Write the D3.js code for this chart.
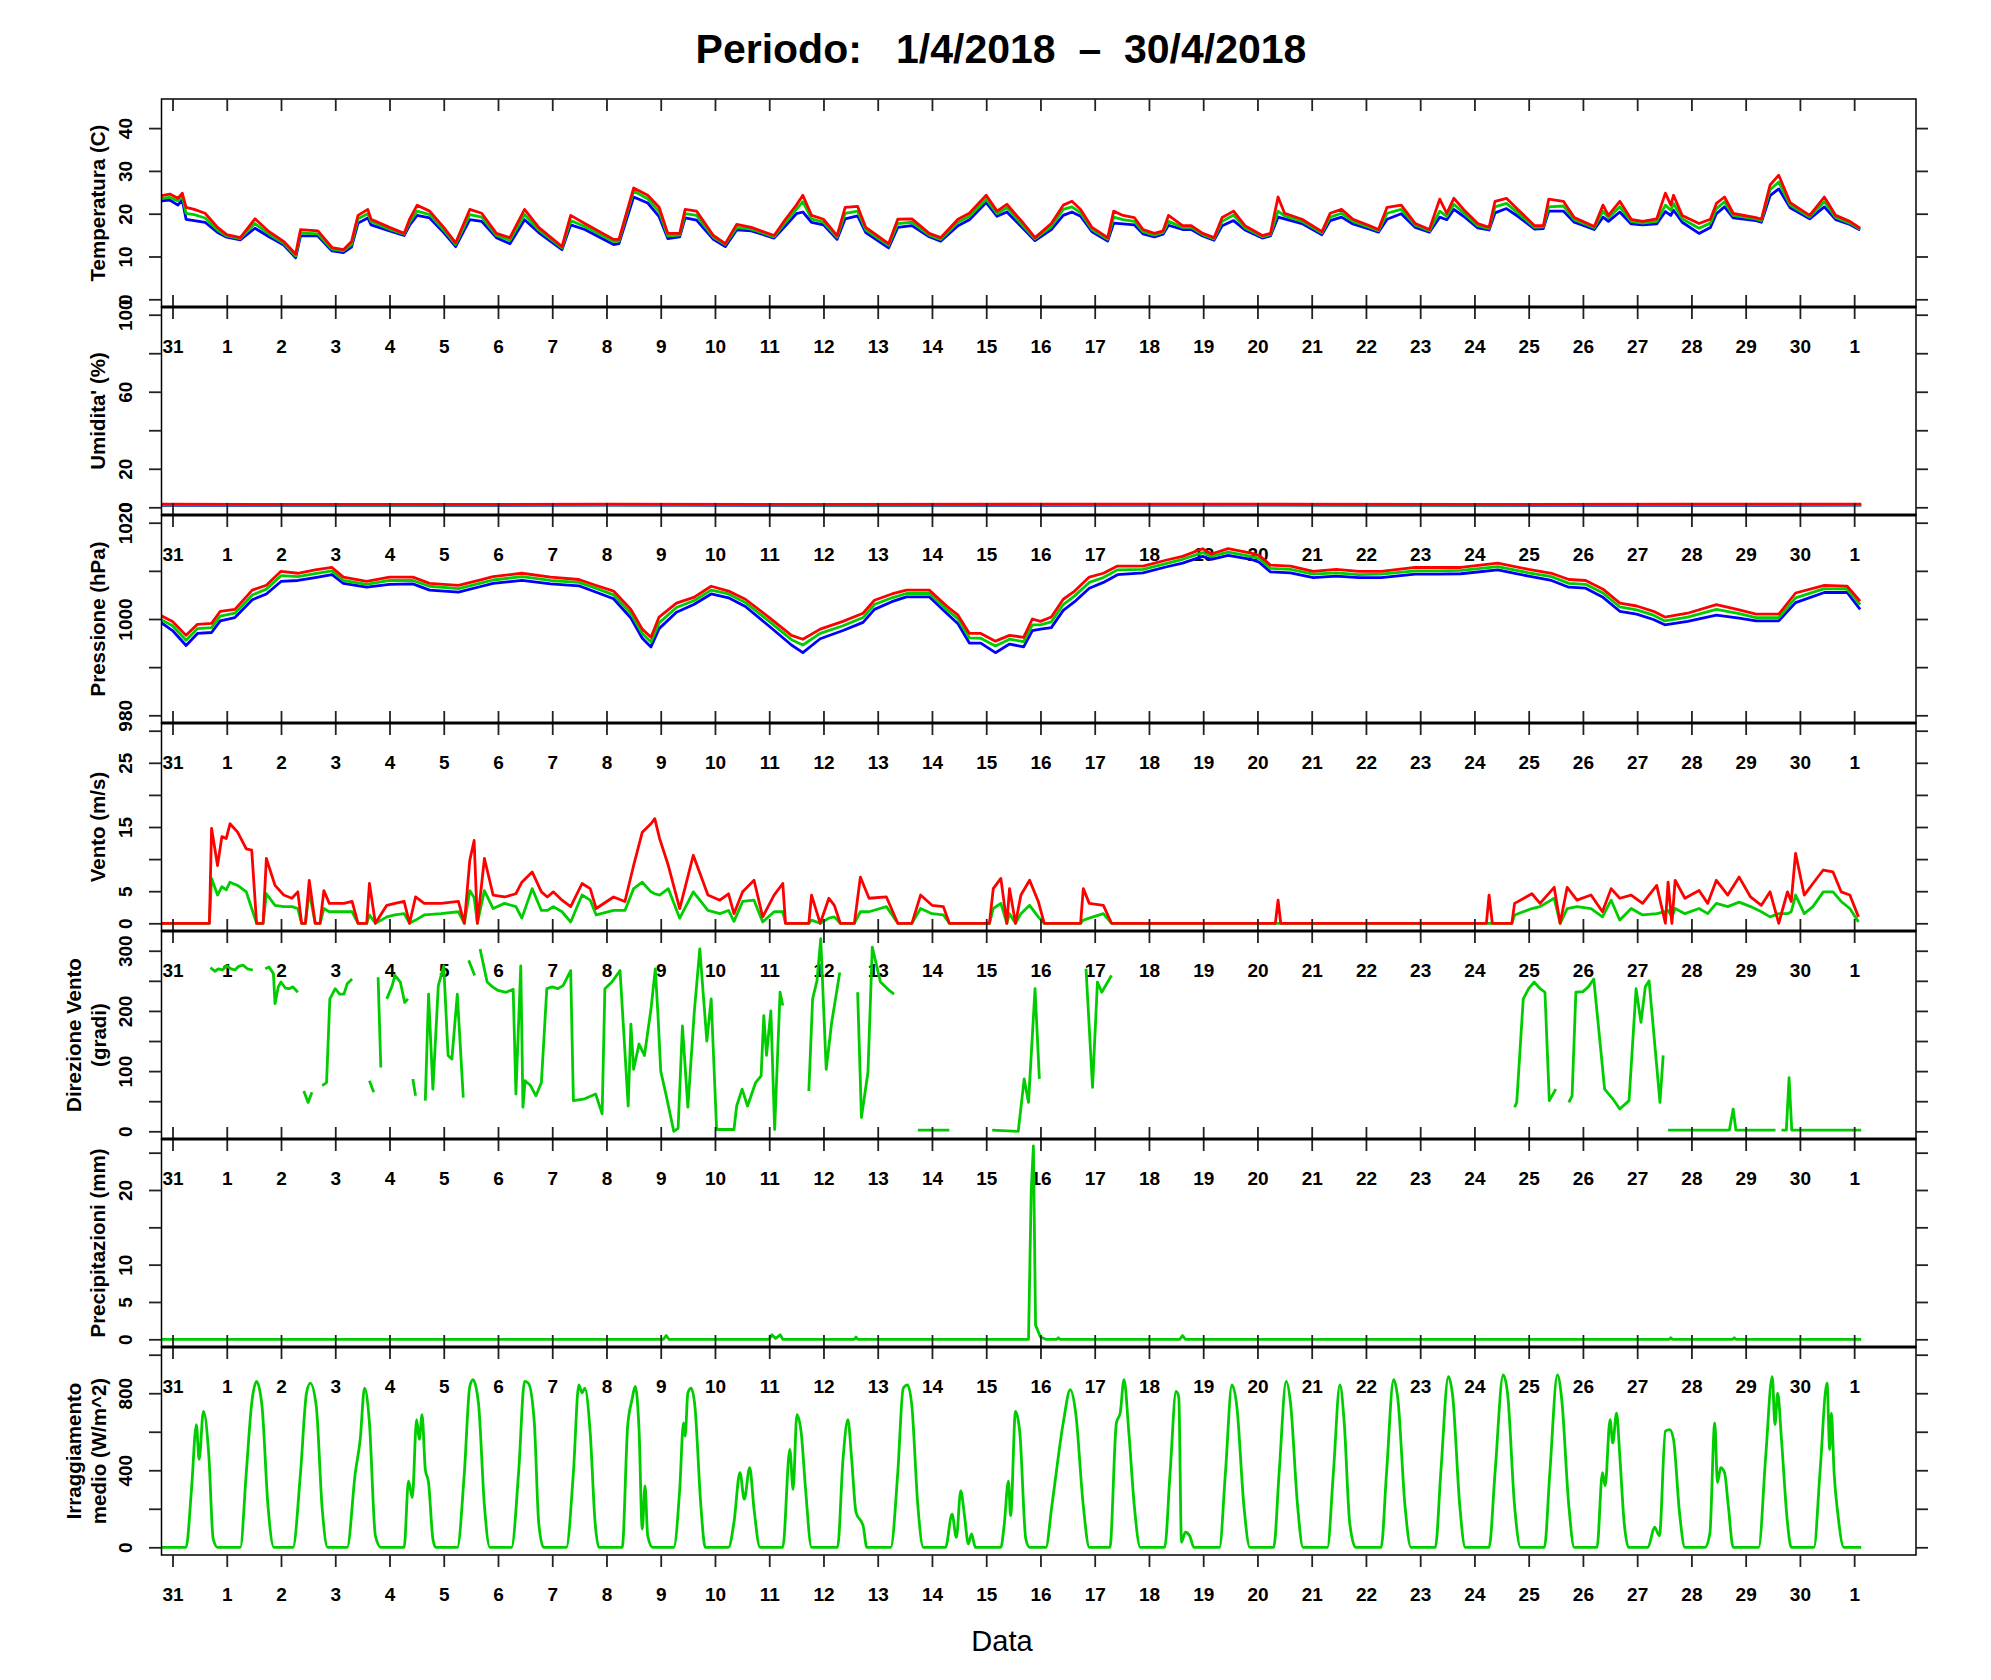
<!DOCTYPE html>
<html>
<head>
<meta charset="utf-8">
<script src="https://cdn.jsdelivr.net/npm/d3@7"></script>
<style>
  body { margin: 0; background: #fff; }
  text { font-family: "Liberation Sans", Arial, Helvetica, sans-serif; }
</style>
</head>
<body>
<div id="main"></div>
<script>
// time axis is in days counted from 31/3 00:00
const dayTicks = [0,1,2,3,4,5,6,7,8,9,10,11,12,13,14,15,16,17,18,19,20,21,22,23,24,25,26,27,28,29,30,31];
const dayLabels = ['31','1','2','3','4','5','6','7','8','9','10','11','12','13','14','15','16','17','18','19','20','21','22','23','24','25','26','27','28','29','30','1'];

// temperature (C): max (red), mean (green), min (blue)
const tempT = [-0.2,-0.05,0.1,0.18,0.25,0.4,0.6,0.83,1.0,1.25,1.52,1.78,2.05,2.27,2.36,2.68,2.94,3.15,3.3,3.42,3.6,3.66,4.0,4.27,4.37,4.51,4.74,5.0,5.22,5.48,5.7,5.97,6.22,6.49,6.75,7.18,7.34,7.6,8.13,8.23,8.5,8.76,8.97,9.13,9.35,9.45,9.66,9.97,10.19,10.4,10.67,11.09,11.3,11.5,11.62,11.78,12.0,12.25,12.4,12.63,12.78,13.2,13.37,13.63,13.95,14.16,14.48,14.69,15.0,15.2,15.38,15.69,15.9,16.2,16.42,16.58,16.74,16.95,17.24,17.35,17.52,17.73,17.89,18.1,18.26,18.36,18.62,18.78,18.99,19.2,19.35,19.56,19.77,20.09,20.24,20.38,20.5,20.82,21.19,21.34,21.55,21.76,22.07,22.23,22.39,22.65,22.91,23.17,23.36,23.49,23.62,23.8,24.06,24.27,24.38,24.59,24.8,25.11,25.27,25.37,25.64,25.84,26.21,26.37,26.47,26.68,26.89,27.1,27.36,27.52,27.62,27.67,27.83,28.14,28.35,28.46,28.61,28.77,29.19,29.29,29.45,29.61,29.82,30.18,30.45,30.66,30.92,31.11];
const tempMax = [24.2,24.6,23.6,24.8,21.5,21.0,20.1,16.8,15.1,14.4,18.8,15.8,13.5,10.6,16.3,16.0,12.1,11.6,13.5,19.6,21.0,18.7,16.8,15.4,18.7,22.0,20.6,16.8,13.2,21.0,20.1,15.4,14.4,21.0,16.8,12.3,19.6,17.7,14.0,14.0,26.0,24.3,21.5,15.4,15.4,21.0,20.6,14.9,13.0,17.5,16.8,14.9,18.7,22.0,24.3,19.6,18.7,14.9,21.5,21.7,16.8,13.0,18.7,18.8,15.4,14.4,18.7,20.1,24.3,20.6,22.2,17.7,14.4,17.7,22.0,22.9,21.0,16.8,14.4,20.6,19.6,19.1,16.3,15.4,16.0,19.6,17.2,17.2,15.4,14.4,19.1,20.6,17.2,14.9,15.4,23.9,20.1,18.7,15.8,20.1,21.0,18.7,17.2,16.3,21.5,22.0,17.7,16.3,23.4,20.1,23.6,21.0,17.7,16.8,22.9,23.6,21.0,17.2,17.2,23.4,22.9,19.1,17.0,22.0,19.6,22.9,18.7,18.2,18.8,24.8,22.0,24.3,19.6,17.7,18.7,22.4,23.9,20.1,19.1,18.7,26.7,29.0,22.6,19.6,23.9,19.6,18.2,16.6];
const tempMean = [23.6,23.8,23.0,24.0,20.1,19.8,19.0,16.2,14.8,14.2,17.7,15.2,13.1,10.1,15.5,15.3,11.7,11.3,12.8,18.8,20.0,18.2,16.4,15.2,18.0,20.6,19.8,16.2,12.8,19.8,19.2,14.9,13.8,19.8,16.2,12.0,18.4,17.0,13.5,13.6,25.3,23.5,20.5,14.8,15.0,20.0,19.6,14.5,12.8,16.8,16.4,14.6,18.0,21.0,22.8,18.8,18.0,14.5,20.1,20.6,16.2,12.6,17.7,18.0,15.0,14.0,18.0,19.4,23.4,20.0,21.4,17.0,14.1,17.0,21.0,21.6,20.2,16.3,14.0,19.2,18.6,18.2,15.8,15.0,15.6,18.2,16.8,16.8,15.1,14.1,18.2,19.7,16.7,14.6,15.1,20.6,19.5,18.2,15.5,19.2,20.1,18.2,16.8,16.0,20.1,21.0,17.3,16.0,20.6,19.4,22.2,20.2,17.2,16.5,21.6,22.4,20.2,16.8,16.9,21.6,21.8,18.6,16.7,20.6,19.0,21.6,18.2,17.8,18.2,22.0,20.8,22.4,18.8,16.6,17.8,21.2,22.8,19.6,18.8,18.4,25.6,27.4,22.0,19.2,22.8,19.1,17.8,16.4];
const tempMin = [23.0,23.2,22.0,23.2,18.7,18.4,18.0,15.6,14.5,13.9,16.6,14.6,12.7,9.7,14.8,14.8,11.3,10.9,12.2,17.8,19.0,17.4,16.0,14.9,17.3,19.6,19.0,15.6,12.3,18.6,18.2,14.4,13.0,18.6,15.6,11.6,17.4,16.3,12.8,13.0,23.9,22.5,19.3,14.2,14.6,19.0,18.5,14.0,12.3,16.2,16.0,14.3,17.2,20.0,20.4,18.0,17.4,14.0,18.8,19.5,15.6,12.0,16.8,17.2,14.6,13.6,17.2,18.6,22.6,19.4,20.4,16.4,13.7,16.3,19.6,20.4,19.4,15.8,13.6,17.8,17.6,17.4,15.3,14.6,15.2,17.3,16.3,16.3,14.8,13.8,17.2,18.4,16.2,14.3,14.8,19.2,18.8,17.7,15.1,18.4,19.2,17.6,16.4,15.7,18.7,20.0,16.8,15.7,19.2,18.6,21.0,19.4,16.7,16.2,20.2,21.2,19.4,16.4,16.5,20.6,20.6,18.0,16.3,19.2,18.2,20.4,17.6,17.4,17.6,20.5,19.6,20.8,18.0,15.4,16.8,20.0,21.6,19.0,18.4,18.0,24.2,25.8,21.4,18.8,21.6,18.6,17.5,16.2];

// relative humidity (%)
const humT = [-0.2,4,8,12,16,20,24,28,31.13];
const humMax = [1.6,1.5,1.6,1.5,1.6,1.6,1.5,1.6,1.6];
const humMean = [1.3,1.2,1.3,1.2,1.3,1.3,1.2,1.3,1.3];
const humMin = [1.0,1.0,1.1,1.0,1.0,1.1,1.0,1.0,1.1];

// pressure (hPa)
const presT = [-0.23,0.0,0.25,0.46,0.72,0.88,1.15,1.47,1.73,2.0,2.31,2.63,2.94,3.15,3.58,4.0,4.43,4.74,5.27,5.7,5.91,6.44,6.97,7.49,7.8,8.13,8.45,8.66,8.82,8.97,9.29,9.61,9.93,10.25,10.56,10.99,11.41,11.62,11.94,12.36,12.73,12.94,13.26,13.53,13.95,14.27,14.48,14.69,14.9,15.17,15.43,15.69,15.85,16.0,16.2,16.42,16.63,16.9,17.16,17.42,17.89,18.31,18.62,18.99,19.15,19.46,19.88,20.03,20.24,20.61,21.03,21.45,21.87,22.28,22.91,23.33,23.75,24.43,25.0,25.42,25.74,26.05,26.37,26.68,26.99,27.3,27.51,27.93,28.46,28.88,29.19,29.61,29.92,30.45,30.87,31.11];
const presMax = [1000.8,999.5,996.6,998.9,999.1,1001.6,1002.0,1006.0,1007.0,1009.9,1009.5,1010.2,1010.7,1008.7,1007.8,1008.7,1008.7,1007.4,1007.0,1008.2,1008.8,1009.5,1008.7,1008.2,1007.0,1005.8,1002.0,997.9,996.2,1000.4,1003.3,1004.5,1006.8,1005.8,1004.1,1000.4,996.6,995.8,997.9,999.5,1001.2,1003.9,1005.2,1006.0,1006.0,1002.7,1000.8,997.0,997.0,995.4,996.6,996.2,1000.0,999.5,1000.4,1004.1,1005.8,1008.7,1009.5,1011.0,1011.0,1012.2,1013.0,1014.6,1013.5,1014.6,1013.7,1013.2,1011.2,1011.0,1009.9,1010.3,1009.9,1009.9,1010.7,1010.7,1010.7,1011.6,1010.3,1009.5,1008.2,1008.0,1006.2,1003.3,1002.7,1001.6,1000.4,1001.2,1003.0,1001.9,1001.0,1001.0,1005.4,1007.0,1006.8,1003.7];
const presMean = [1000.0,998.6,995.6,998.0,998.2,1000.6,1001.2,1005.0,1006.2,1009.0,1008.8,1009.4,1010.0,1008.0,1007.2,1008.0,1008.0,1006.8,1006.3,1007.5,1008.1,1008.8,1008.0,1007.6,1006.4,1005.0,1001.2,997.0,995.2,999.2,1002.4,1003.8,1006.0,1005.2,1003.4,999.6,995.7,994.6,997.0,998.6,1000.3,1003.0,1004.4,1005.3,1005.3,1002.0,1000.0,996.1,996.0,994.4,995.8,995.3,998.8,998.8,999.4,1003.0,1004.8,1007.6,1008.6,1010.2,1010.3,1011.5,1012.4,1013.8,1013.0,1013.9,1013.0,1012.6,1010.5,1010.3,1009.3,1009.6,1009.2,1009.3,1010.0,1010.0,1010.1,1010.9,1009.6,1008.8,1007.4,1007.2,1005.4,1002.5,1001.9,1000.8,999.6,1000.4,1002.0,1001.1,1000.3,1000.3,1004.4,1006.3,1006.2,1003.0];
const presMin = [999.4,997.6,994.5,997.0,997.2,999.6,1000.3,1004.0,1005.2,1007.8,1008.0,1008.6,1009.2,1007.4,1006.6,1007.2,1007.3,1006.0,1005.6,1006.8,1007.4,1008.0,1007.3,1006.9,1005.6,1004.2,1000.2,996.0,994.2,998.0,1001.4,1003.0,1005.2,1004.4,1002.6,998.6,994.6,993.0,995.9,997.6,999.3,1002.0,1003.6,1004.6,1004.6,1001.2,999.0,995.0,995.0,993.0,994.8,994.2,997.6,997.9,998.2,1001.8,1003.6,1006.4,1007.6,1009.2,1009.6,1010.8,1011.6,1013.0,1012.4,1013.2,1012.4,1011.8,1009.8,1009.6,1008.6,1008.9,1008.6,1008.6,1009.3,1009.3,1009.4,1010.2,1008.9,1008.0,1006.6,1006.4,1004.5,1001.6,1001.0,999.9,998.8,999.5,1000.8,1000.2,999.6,999.6,1003.4,1005.5,1005.5,1002.0];

// wind speed (m/s): gust (red), mean (green)
const windT = [-0.2,0.68,0.72,0.83,0.91,0.99,1.06,1.2,1.36,1.46,1.55,1.67,1.73,1.89,2.05,2.2,2.31,2.38,2.45,2.52,2.63,2.72,2.79,2.89,3.16,3.31,3.42,3.58,3.63,3.74,3.85,3.95,4.1,4.27,4.37,4.48,4.64,4.95,5.27,5.38,5.48,5.56,5.62,5.75,5.91,6.12,6.33,6.44,6.63,6.8,6.91,7.02,7.18,7.34,7.55,7.7,7.81,8.13,8.34,8.5,8.66,8.82,8.89,8.98,9.14,9.35,9.6,9.87,10.09,10.25,10.35,10.51,10.72,10.88,11.09,11.25,11.3,11.73,11.78,11.94,12.1,12.2,12.31,12.57,12.68,12.84,13.16,13.37,13.63,13.79,14.0,14.21,14.32,15.06,15.13,15.27,15.38,15.43,15.54,15.64,15.8,15.96,16.07,16.74,16.79,16.9,17.16,17.31,20.33,20.38,20.43,24.22,24.27,24.33,24.69,24.74,25.06,25.21,25.47,25.58,25.71,25.89,26.15,26.36,26.52,26.68,26.89,27.1,27.36,27.52,27.57,27.64,27.7,27.88,28.14,28.3,28.46,28.67,28.88,29.09,29.29,29.45,29.61,29.77,29.84,29.92,30.08,30.24,30.43,30.61,30.76,30.92,31.08];
const windGust = [0,0,14.8,9.0,13.5,13.2,15.5,14.2,11.6,11.4,0,0,10.1,5.9,4.4,3.9,4.9,0,0,6.7,0,0,5.1,3.1,3.1,3.4,0,0,6.2,0,1.5,2.8,3.1,3.4,0,4.1,3.1,3.1,3.4,0,9.8,12.9,0,10.1,4.4,4.1,4.6,6.4,8.0,4.9,4.1,4.9,3.6,2.6,6.2,5.4,2.3,4.1,3.4,9.0,14.2,15.5,16.3,13.2,9.0,2.3,10.6,4.4,3.6,4.6,1.5,4.9,6.7,1.0,4.4,6.2,0,0,4.4,0,3.9,2.8,0,0,7.2,3.9,4.1,0,0,4.4,2.8,2.6,0,0,5.4,7.0,0,5.4,0,4.4,6.7,3.4,0,0,5.4,3.1,2.8,0,0,3.6,0,0,4.4,0,0,3.1,4.6,3.1,5.6,0,5.6,3.6,4.4,1.8,5.4,3.9,4.4,3.1,5.9,0,6.4,0,6.7,3.9,5.1,3.1,6.7,4.4,7.2,4.1,2.8,4.9,0,4.9,3.4,10.9,4.4,6.2,8.3,8.0,4.9,4.4,1.0];
const windMean = [0,0,7.0,4.4,5.7,5.2,6.4,5.9,4.9,2.3,0,0,4.6,2.8,2.6,2.6,2.3,0,0,4.9,0,0,2.3,1.8,1.8,1.8,0,0,1.3,0,0.5,1.0,1.3,1.5,0,0.5,1.3,1.5,1.8,0,5.1,4.0,0,5.1,2.3,3.1,2.6,0.8,5.4,2.0,2.0,2.6,1.8,0.2,4.4,3.6,1.3,2.0,2.0,5.4,6.4,4.9,4.6,4.4,5.4,0.8,4.9,2.0,1.5,2.0,0.3,3.4,3.6,0.2,1.8,1.8,0,0,0.5,0,0.8,1.0,0,0,1.8,1.8,2.6,0,0,2.3,1.5,1.3,0,0,2.3,3.1,0,1.5,0,1.5,2.8,1.0,0,0,0.5,0.8,1.5,0,0,0,0,0,0,0,0,1.3,2.3,2.6,3.9,0,2.3,2.6,2.3,1.0,3.6,0.5,2.3,1.3,1.5,1.8,2.0,1.0,2.3,1.5,2.3,1.5,3.1,2.6,3.3,2.6,1.8,1.0,1.5,1.5,1.8,4.4,1.5,2.6,4.9,4.9,3.4,2.3,0.2];

// wind direction (degrees), null marks a gap in the record
const dirT = [0.7,0.78,0.85,0.92,1.0,1.08,1.15,1.22,1.3,1.38,1.48,1.6,1.71,1.78,1.86,1.89,1.95,2.0,2.08,2.15,2.22,2.31,2.36,2.42,2.5,2.57,2.66,2.76,2.84,2.9,3.0,3.08,3.16,3.22,3.31,3.5,3.63,3.71,3.75,3.79,3.84,3.9,3.95,4.05,4.1,4.2,4.28,4.34,4.38,4.43,4.48,4.56,4.66,4.72,4.8,4.9,5.0,5.08,5.15,5.25,5.36,5.41,5.46,5.57,5.62,5.67,5.8,5.9,6.0,6.15,6.28,6.33,6.42,6.46,6.5,6.6,6.7,6.8,6.9,7.0,7.1,7.2,7.34,7.39,7.6,7.8,7.92,7.97,8.1,8.25,8.4,8.45,8.5,8.6,8.7,8.82,8.9,8.95,9.0,9.1,9.24,9.32,9.4,9.5,9.62,9.72,9.85,9.93,10.03,10.35,10.4,10.5,10.6,10.75,10.85,10.9,10.95,11.03,11.1,11.2,11.25,11.5,11.73,11.8,11.88,11.95,12.05,12.15,12.3,12.45,12.63,12.7,12.82,12.9,13.05,13.2,13.3,13.5,13.74,14.32,14.7,15.11,15.59,15.7,15.78,15.9,15.98,16.4,16.84,16.96,17.05,17.13,17.31,21.0,24.74,24.78,24.9,25.0,25.1,25.2,25.3,25.38,25.5,25.62,25.74,25.8,25.87,26.0,26.1,26.2,26.4,26.55,26.68,26.85,26.98,27.07,27.15,27.22,27.42,27.48,27.53,27.57,28.7,28.77,28.82,29.55,29.6,29.66,29.75,29.8,29.85,31.13];
const dirV = [272,266,270,268,275,270,268,274,276,270,268,null,270,273,262,212,240,248,238,237,240,231,null,67,48,65,null,76,81,220,237,228,228,245,253,null,84,65,null,256,106,null,220,242,259,248,214,220,null,87,59,null,51,228,70,242,275,126,120,228,56,null,284,259,null,303,248,240,234,231,236,62,275,40,84,76,59,81,237,240,237,242,267,51,54,62,29,237,248,267,42,178,103,145,126,203,270,192,100,60,0,5,175,40,200,303,150,220,3,3,42,70,42,81,92,192,126,200,3,231,209,null,67,220,250,320,103,180,264,null,231,23,98,306,248,235,228,null,2,2,null,2,0,87,48,237,87,null,270,73,248,231,259,null,40,48,220,237,248,238,231,51,70,null,48,59,231,232,240,253,70,54,37,51,237,181,240,250,48,126,null,2,2,37,2,2,null,2,2,89,2,2];

// precipitation (mm)
const precT = [-0.2,9.05,9.1,9.15,11.0,11.05,11.12,11.2,11.25,12.57,12.6,12.63,15.78,15.83,15.87,15.91,16.0,16.1,16.3,16.33,16.36,18.57,18.62,18.67,27.59,27.62,27.65,28.76,28.79,28.82,31.13];
const precV = [0,0,0.5,0,0,0.6,0.1,0.6,0,0,0.3,0,0,20,25.9,1.9,0.3,0,0,0.2,0,0,0.5,0,0,0.2,0,0,0.2,0,0];

// mean irradiance (W/m^2)
const irrT = [-0.2,0.25,0.35,0.44,0.49,0.57,0.67,0.75,0.83,1.25,1.36,1.46,1.55,1.65,1.76,1.87,2.22,2.36,2.47,2.54,2.65,2.76,2.86,3.22,3.37,3.46,3.54,3.63,3.74,3.84,4.27,4.35,4.42,4.5,4.55,4.6,4.66,4.72,4.8,4.85,5.25,5.38,5.48,5.54,5.64,5.75,5.85,6.25,6.38,6.49,6.56,6.67,6.75,6.84,7.26,7.39,7.49,7.55,7.6,7.7,7.79,7.86,8.29,8.39,8.47,8.53,8.6,8.66,8.71,8.76,8.85,9.24,9.35,9.42,9.45,9.5,9.56,9.63,9.74,9.82,10.25,10.35,10.46,10.54,10.64,10.72,10.83,11.25,11.38,11.44,11.51,11.59,11.67,11.78,12.26,12.36,12.45,12.52,12.6,12.73,12.8,13.24,13.37,13.47,13.55,13.63,13.74,13.84,14.25,14.37,14.45,14.53,14.6,14.67,14.73,14.8,15.27,15.33,15.41,15.45,15.54,15.62,15.73,15.8,16.1,16.21,16.42,16.55,16.65,16.79,16.9,17.28,17.4,17.47,17.54,17.63,17.73,17.84,18.29,18.39,18.5,18.55,18.6,18.67,18.75,18.83,19.3,19.41,19.53,19.62,19.75,19.86,20.3,20.4,20.53,20.61,20.74,20.84,21.29,21.4,21.52,21.6,21.7,21.81,22.28,22.38,22.51,22.59,22.72,22.83,23.28,23.38,23.52,23.6,23.73,23.83,24.27,24.38,24.53,24.61,24.74,24.85,25.29,25.39,25.53,25.61,25.74,25.84,26.26,26.36,26.41,26.5,26.55,26.62,26.68,26.76,26.84,27.2,27.32,27.41,27.52,27.6,27.67,27.78,27.88,28.25,28.34,28.43,28.48,28.54,28.61,28.68,28.77,29.24,29.37,29.49,29.54,29.59,29.66,29.77,29.84,30.26,30.37,30.5,30.55,30.58,30.63,30.7,30.81,31.13];
const irrV = [0,0,301,637,456,706,473,43,0,0,388,749,861,732,215,0,0,388,801,852,732,198,0,0,388,560,826,646,60,0,0,344,258,663,560,689,405,336,43,0,0,388,835,870,749,215,0,0,388,861,852,646,129,0,0,388,843,801,826,594,129,0,0,628,766,835,611,95,319,60,0,0,301,646,577,801,826,732,215,0,0,129,388,250,413,198,0,0,508,301,689,594,301,0,0,456,663,456,181,112,0,0,388,826,843,732,215,0,0,172,52,293,164,18,69,0,0,112,344,164,706,594,43,0,0,215,646,818,697,215,0,0,646,697,870,594,215,0,0,388,809,780,26,78,60,0,0,388,843,732,215,0,0,388,861,749,215,0,0,388,843,646,129,0,0,388,870,766,215,0,0,388,886,783,215,0,0,388,895,801,215,0,0,388,895,766,215,0,0,388,319,663,542,697,473,129,0,0,104,60,603,611,560,181,0,0,72,646,336,413,388,215,0,0,474,886,637,801,560,129,0,0,388,852,508,697,388,172,0,0];

// y axes: ticks and which of them carry a label
const tempTicks = [0,10,20,30,40],               tempLabels = [0,10,20,30,40];
const humTicks = [0,20,40,60,80,100],            humLabels = [0,20,60,100];
const presTicks = [980,990,1000,1010,1020],      presLabels = [980,1000,1020];
const windTicks = [0,5,10,15,20,25,30],          windLabels = [0,5,15,25];
const dirTicks = [0,50,100,150,200,250,300],     dirLabels = [0,100,200,300];
const precTicks = [0,5,10,15,20,25],             precLabels = [0,5,10,20];
const irrTicks = [0,200,400,600,800,1000],       irrLabels = [0,400,800];

const RED = '#ff0000', GREEN = '#00cd00', BLUE = '#0000ff';
const zip = (t, v) => t.map((d, i) => [d, v[i]]);

const panels = [
  { title: ['Temperatura (C)'], ylim: [0, 45], ticks: tempTicks, labels: tempLabels,
    series: [[zip(tempT, tempMin), BLUE], [zip(tempT, tempMean), GREEN], [zip(tempT, tempMax), RED]] },
  { title: ["Umidita' (%)"], ylim: [0, 100], ticks: humTicks, labels: humLabels,
    series: [[zip(humT, humMin), BLUE], [zip(humT, humMean), GREEN], [zip(humT, humMax), RED]] },
  { title: ['Pressione (hPa)'], ylim: [980, 1020], ticks: presTicks, labels: presLabels,
    series: [[zip(presT, presMin), BLUE], [zip(presT, presMean), GREEN], [zip(presT, presMax), RED]] },
  { title: ['Vento (m/s)'], ylim: [0, 30], ticks: windTicks, labels: windLabels,
    series: [[zip(windT, windMean), GREEN], [zip(windT, windGust), RED]] },
  { title: ['Direzione Vento', '(gradi)'], ylim: [0, 320], ticks: dirTicks, labels: dirLabels,
    series: [[zip(dirT, dirV), GREEN]] },
  { title: ['Precipitazioni (mm)'], ylim: [0, 25.8], ticks: precTicks, labels: precLabels,
    series: [[zip(precT, precV), GREEN]] },
  { title: ['Irraggiamento', 'medio (W/m^2)'], ylim: [0, 1000], ticks: irrTicks, labels: irrLabels,
    series: [[zip(irrT, irrV), GREEN]], smooth: true }
];

const width = 1991, height = 1680;
const plotL = 161.5, plotR = 1916, plotTop = 99, panelH = 208;

let svg = d3.select('#main')
  .append('svg')
    .attr('width', width)
    .attr('height', height)
    .style('display', 'block');

// R style axis range: 4% padding on both sides
const expand = lim => { const r = lim[1] - lim[0]; return [lim[0] - 0.04 * r, lim[1] + 0.04 * r]; };

const x = d3.scaleLinear().domain([-0.203, 32.14]).range([plotL, plotR]);

panels.forEach((p, i) => {
  const top = plotTop + i * panelH, bottom = top + panelH;
  const y = d3.scaleLinear().domain(expand(p.ylim)).range([bottom, top]);
  const g = svg.append('g');

  g.append('clipPath').attr('id', 'clip' + i)
    .append('rect').attr('x', plotL).attr('y', top).attr('width', plotR - plotL).attr('height', panelH);

  const line = d3.line()
    .defined(d => d[1] !== null)
    .x(d => x(d[0]))
    .y(d => y(d[1]))
    .curve(p.smooth ? d3.curveMonotoneX : d3.curveLinear);

  p.series.forEach(([data, color]) => {
    g.append('path')
      .datum(data)
      .attr('clip-path', `url(#clip${i})`)
      .attr('fill', 'none')
      .attr('stroke', color)
      .attr('stroke-width', 2.8)
      .attr('stroke-linejoin', 'round')
      .attr('d', line);
  });

  g.append('rect')
    .attr('x', plotL).attr('y', top)
    .attr('width', plotR - plotL).attr('height', panelH)
    .attr('fill', 'none').attr('stroke', '#000').attr('stroke-width', 1.5);

  // left axis, labels turned like R las=0
  const left = g.append('g')
    .attr('transform', `translate(${plotL},0)`)
    .call(d3.axisLeft(y).tickValues(p.ticks).tickSize(12.5)
      .tickFormat(v => p.labels.includes(v) ? v : ''));
  left.select('.domain').remove();
  left.attr('color', '#222').attr('font-size', 19).attr('font-weight', 'bold')
    .attr('font-family', null);
  left.selectAll('line').attr('stroke-width', 1.8);
  left.selectAll('text')
    .attr('x', 0).attr('y', -29.5).attr('dy', 0)
    .attr('fill', '#000')
    .attr('text-anchor', 'middle')
    .attr('transform', 'rotate(-90)');

  const right = g.append('g')
    .attr('transform', `translate(${plotR},0)`)
    .call(d3.axisRight(y).tickValues(p.ticks).tickSize(12).tickFormat(''));
  right.select('.domain').remove();
  right.attr('color', '#222').selectAll('line').attr('stroke-width', 1.8);

  // day ticks on top (inward for the first panel) and bottom with labels
  const topAxis = g.append('g')
    .attr('transform', `translate(0,${top})`)
    .call(d3.axisTop(x).tickValues(dayTicks).tickSize(i === 0 ? -12 : 12).tickFormat(''));
  topAxis.select('.domain').remove();
  topAxis.attr('color', '#222').selectAll('line').attr('stroke-width', 1.8);

  const bot = g.append('g')
    .attr('transform', `translate(0,${bottom})`)
    .call(d3.axisBottom(x).tickValues(dayTicks).tickSize(12).tickFormat((d, k) => dayLabels[k]));
  bot.select('.domain').remove();
  bot.attr('color', '#222').attr('font-size', 19).attr('font-weight', 'bold')
    .attr('font-family', null);
  bot.selectAll('line').attr('stroke-width', 1.8);
  bot.selectAll('text').attr('y', 45.5).attr('dy', 0).attr('fill', '#000');

  // y title, one or two lines
  const cy = (top + bottom) / 2;
  const baseX = p.title.length === 1 ? [104.5] : [81, 106];
  p.title.forEach((t, k) => {
    svg.append('text')
      .attr('transform', `translate(${baseX[k]},${cy}) rotate(-90)`)
      .attr('text-anchor', 'middle')
      .attr('font-size', 20.5)
      .attr('font-weight', 'bold')
      .text(t);
  });

  if (i > 0) {
    svg.append('line')
      .attr('x1', plotL).attr('x2', plotR).attr('y1', top).attr('y2', top)
      .attr('stroke', '#000').attr('stroke-width', 3);
  }
});

svg.append('text')
  .attr('x', 1001).attr('y', 63)
  .attr('text-anchor', 'middle')
  .attr('font-size', 41)
  .attr('font-weight', 'bold')
  .style('white-space', 'pre')
  .text('Periodo:   1/4/2018  \u2013  30/4/2018');

svg.append('text')
  .attr('x', 1002).attr('y', 1650.7)
  .attr('text-anchor', 'middle')
  .attr('font-size', 29)
  .text('Data');
</script>
</body>
</html>
